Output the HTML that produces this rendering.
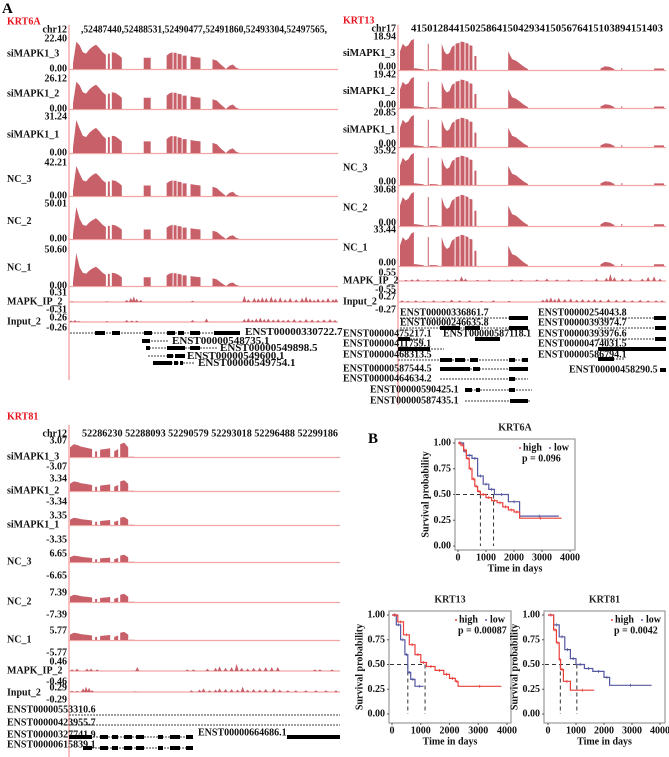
<!DOCTYPE html>
<html><head><meta charset="utf-8">
<style>
html,body{margin:0;padding:0;background:#fff;}
svg{display:block;font-family:"Liberation Serif",serif;font-weight:bold;}
</style></head>
<body>
<svg id="fig" width="669" height="757" viewBox="0 0 669 757" xmlns="http://www.w3.org/2000/svg">
<text x="2" y="13" font-size="15">A</text>
<text x="368" y="443" font-size="15">B</text>
</svg>
<script>
// ===== Data =====
const sampleNames = ["siMAPK1_3","siMAPK1_2","siMAPK1_1","NC_3","NC_2","NC_1"];
const k6Max = ["22.40","26.12","31.24","42.21","50.01","50.60"];
const k13Max = ["18.94","19.42","20.85","35.92","30.68","33.44"];
const k81Max = ["3.07","3.34","3.35","6.65","7.39","5.77"];
const k6Scale = [1,1,0.85,0.85,0.72,0.65];
const k13Scale = [1,1,1,1,1,1];
const k81Scale = [1,1,1,1,1,1];
const k6Exons = [
 [4,37,[0.2,0.97,0.85,0.6,0.55,0.7,0.8,0.87,0.75,0.6,0.5]],
 [39,41,[0.55,0.55]],[43,53,[0.6,0.58,0.5,0.4]],
 [75,82,[0.4,0.4]],[98,104,[0.48,0.56,0.6]],[105,108,[0.58,0.58]],
 [109,113,[0.55,0.52]],[114,118,[0.48,0.48]],[122,132,[0.45,0.42,0.4]],
 [144,157,[0.35,0.3,0.15,0.02]],[158,171,[0.02,0.12,0.16,0.05,0]]
];
const k13Exons = [
 [2,16,[0.6,0.85,0.75,0.8,0.95,1.0]],[16,26,[0.06,0.04,0.02]],
 [30,31,[0.85,0.85]],[32,40,[0.03,0.02]],
 [44,57,[0.85,0.6,0.5,0.55,0.75,0.8]],[58,62,[0.85,0.88]],[63,67,[0.92,0.9]],
 [68,71,[0.88,0.85]],[72,75,[0.8,0.78]],[77,79,[0.45,0.45]],
 [111,131,[0.6,0.35,0.3,0.2,0.1,0.03]],
 [204,218,[0.05,0.12,0.1,0.03]],[225,226,[0.06,0.06]],[258,268,[0.05,0.05]]
];
const k81Exons = [
 [1,23,[0.6,0.8,0.75,0.65,0.6,0.55,0.5]],[26,28,[0.35,0.35]],
 [31,41,[0.45,0.5,0.55]],[45,49,[0.35,0.5]],[51,59,[0.8,0.9,0.6]],[60,65,[0.02,0.02]]
];
const k6Ip = [[3,0.1],[38,0.1],[58,0.3],[62,0.6],[65,0.8],[68,0.5],[72,0.3],[124,0.2],[176,0.9],[180,0.4],[186,0.6],[190,0.5],[194,0.7],[198,0.6],[203,0.8],[207,0.5],[212,0.7],[217,0.4],[222,0.6],[228,0.4],[234,0.6],[238,0.8],[242,0.5],[246,0.3],[250,0.5],[255,0.4],[260,0.6],[265,0.4],[268,0.5]];
const k6In = [[2,0.3],[6,0.4],[10,0.2],[38,0.2],[58,0.4],[63,0.3],[68,0.3],[124,0.4],[138,0.7],[176,0.6],[180,0.8],[184,0.5],[188,0.7],[192,0.9],[196,0.6],[200,0.7],[205,0.5],[210,0.6],[215,0.4],[220,0.5],[226,0.6],[232,0.4],[238,0.6],[244,0.5],[250,0.4],[256,0.5],[262,0.6],[267,0.4]];
const k13Ip = [[8,0.15],[14,0.2],[20,0.25],[30,0.15],[40,0.15],[50,0.2],[58,0.2],[64,0.6],[68,0.3],[80,0.15],[92,0.2],[115,0.2],[124,0.15],[140,0.2],[150,0.3],[160,0.2],[172,0.2],[185,0.15],[200,0.3],[210,0.4],[214,0.9],[218,0.5],[226,0.3],[234,0.3],[246,0.3],[252,0.5],[258,0.6],[264,0.3]];
const k13In = [[4,0.3],[10,0.2],[18,0.3],[26,0.2],[36,0.3],[46,0.2],[54,0.4],[62,0.3],[72,0.3],[84,0.2],[96,0.3],[112,0.2],[146,0.4],[150,0.6],[154,0.8],[158,0.5],[162,0.7],[168,0.5],[174,0.6],[180,0.4],[186,0.5],[192,0.4],[198,0.5],[204,0.4],[212,0.5],[220,0.4],[228,0.4],[236,0.3],[244,0.4],[252,0.3],[260,0.3],[266,0.3]];
const k81Ip = [[3,0.2],[8,0.3],[18,0.3],[22,0.3],[28,0.2],[68,0.5],[118,0.2],[124,0.2],[138,0.3],[146,0.4],[150,0.6],[156,0.4],[162,0.5],[167,0.9],[172,0.4],[178,0.3],[184,0.4],[190,0.4],[196,0.5],[202,0.5],[208,0.5],[245,0.2],[250,0.2],[262,0.2]];
const k81In = [[3,0.2],[8,0.2],[14,0.6],[17,0.9],[20,0.7],[23,0.3],[66,0.1],[122,0.3],[130,0.4],[134,0.6],[140,0.3],[146,0.4],[150,0.6],[156,0.5],[162,0.5],[168,0.4],[173,0.9],[178,0.4],[184,0.5],[190,0.4],[196,0.5],[204,0.6],[210,0.4],[218,0.3],[226,0.3],[236,0.3],[246,0.3],[256,0.3],[266,0.3]];

// KM data
const kmTicksY = ["0.00","0.25","0.50","0.75","1.00"];
const kmTicksX = ["0","1000","2000","3000","4000"];
const k6aHighT = [0,100,200,300,400,500,600,700,800,1000,1200,1400,1600,1800,2000,2200,3700];
const k6aHighS = [1,0.98,0.93,0.85,0.75,0.65,0.58,0.53,0.5,0.47,0.44,0.42,0.38,0.35,0.33,0.27,0.27];
const k6aLowT = [0,200,300,500,700,900,1100,1300,1800,2200,3600];
const k6aLowS = [1,0.92,0.88,0.85,0.68,0.6,0.55,0.5,0.43,0.29,0.29];
const k13HighT = [0,200,400,600,800,1000,1200,1500,1800,2000,2200,2300,3800];
const k13HighS = [1,0.93,0.8,0.7,0.6,0.52,0.48,0.44,0.4,0.36,0.33,0.28,0.28];
const k13LowT = [0,150,300,450,550,650,800,1100];
const k13LowS = [1,0.9,0.75,0.6,0.42,0.35,0.28,0.28];
const k81HighT = [0,200,300,400,450,550,800,1650];
const k81HighS = [1,0.85,0.72,0.55,0.45,0.33,0.24,0.24];
const k81LowT = [0,200,400,600,800,1000,1300,1600,2000,2200,3700];
const k81LowS = [1,0.9,0.78,0.65,0.56,0.5,0.46,0.43,0.37,0.29,0.29];

// ===== Drawing =====
const NS='http://www.w3.org/2000/svg';
const svg=document.getElementById('fig');
function mk(tag,attrs,parent){const e=document.createElementNS(NS,tag);for(const k in attrs)e.setAttribute(k,attrs[k]);(parent||svg).appendChild(e);return e;}
function T(x,y,s,size,anchor,fill,parent){const e=mk('text',{x:x,y:y,'font-size':size,'text-anchor':anchor||'start','dominant-baseline':'central',fill:fill||'#111'},parent);e.textContent=s;return e;}
const COV='#c8606a', BASE='#f2a5a5';

function coverage(g,x0,W,top,base,exons,mult){
  const xs=p=>x0+p*W/270;
  const H=base-top;
  exons.forEach(ex=>{
    const [s,e,hs]=ex;
    let d='M'+xs(s)+','+base;
    hs.forEach((h,i)=>{const p=s+(e-s)*i/(hs.length-1);const hh=h>=0.9?h:h*mult;d+=' L'+xs(p).toFixed(1)+','+(base-hh*H).toFixed(1);});
    d+=' L'+xs(e)+','+base+' Z';
    const p=mk('path',{d:d,fill:COV},g);
    
    
  });
}
function bumps(g,x0,W,base,H,arr){
  const xs=p=>x0+p*W/270;
  arr.forEach(b=>{
    const p=mk('path',{d:`M${xs(b[0])-2},${base} L${xs(b[0])},${base-b[1]*H} L${xs(b[0])+2},${base} Z`,fill:COV},g);
    
    
  });
}
function baseline(g,x0,x1,y){const l=mk('line',{x1:x0,x2:x1,y1:y,y2:y,stroke:BASE,'stroke-width':1.2},g);
  
  }
function transcript(g,x0,x1,y,blocks){
  const l=mk('line',{x1:x0,x2:x1,y1:y,y2:y,stroke:'#000','stroke-width':0.8,'stroke-dasharray':'2,1'},g);
  
  
  blocks.forEach(b=>{const r=mk('rect',{x:b[0],y:y-2,width:b[1]-b[0],height:4,fill:'#000'},g);
    
    });
}

// ---- KRT6A panel ----
(function(){
  const g=mk('g',{});
  
  
  T(7,22,'KRT6A',10,'start','#e8111c',g);
  T(67,30,'chr12',10,'end','#111',g);
  const h=T(81,30,',52487440,52488531,52490477,52491860,52493304,52497565,',10,'start','#111',g);h.setAttribute('textLength','246');h.setAttribute('lengthAdjust','spacingAndGlyphs');
  const x0=69,W=269;
  mk('line',{x1:x0,x2:x0,y1:25,y2:380,stroke:'#f08080','stroke-width':1},g);
  const tops=[39,79,117,163,204,250], bases=[69,109,153,196,239,286];
  for(let i=0;i<6;i++){
    T(67,tops[i],k6Max[i],10,'end','#111',g);
    T(67,bases[i],'0.00',10,'end','#111',g);
    T(7,(tops[i]+bases[i])/2,sampleNames[i],10,'start','#111',g);
    baseline(g,x0,338,bases[i]+0.5);
    coverage(g,x0,W,tops[i]+2,bases[i],k6Exons,k6Scale[i]);
  }
  T(67,293,'0.31',10,'end','#111',g);T(67,310,'-0.31',10,'end','#111',g);T(7,302,'MAPK_IP_2',10,'start','#111',g);
  baseline(g,x0,338,302);bumps(g,x0,W,302,7,k6Ip);
  T(67,318,'0.26',10,'end','#111',g);T(67,328,'-0.26',10,'end','#111',g);T(7,322,'Input_2',10,'start','#111',g);
  baseline(g,x0,338,322);bumps(g,x0,W,322,5,k6In);
  transcript(g,70,240,333,[[95,105],[112,120],[144,152],[167,175],[178,184],[190,200],[214,240]]);T(245,332,'ENST00000330722.7',11,'start','#111',g);
  transcript(g,142,168,341,[[142,150]]);T(172,341,'ENST00000548735.1',11,'start','#111',g);
  transcript(g,146,218,348,[[146,150],[167,185],[190,200]]);T(220,348,'ENST00000549898.5',11,'start','#111',g);
  transcript(g,148,185,356,[[167,173],[175,185]]);T(187,356,'ENST00000549600.1',11,'start','#111',g);
  transcript(g,153,195,363,[[153,172],[174,178],[180,183]]);T(198,363,'ENST00000549754.1',11,'start','#111',g);
})();

// ---- KRT13 panel ----
(function(){
  const g=mk('g',{});
  
  
  T(343,21,'KRT13',10,'start','#e8111c',g);
  T(396,29,'chr17',10,'end','#111',g);
  const h=T(411,29,'41501284415025864150429341505676415103894151403',10,'start','#111',g);h.setAttribute('textLength','252');h.setAttribute('lengthAdjust','spacingAndGlyphs');
  const x0=398,W=268;
  mk('line',{x1:x0,x2:x0,y1:25,y2:405,stroke:'#f08080','stroke-width':1},g);
  const tops=[37,75,113,151,190,230], bases=[70,108,147,185,226,266];
  for(let i=0;i<6;i++){
    T(396,tops[i],k13Max[i],10,'end','#111',g);
    T(396,bases[i]-3,'0.00',10,'end','#111',g);
    T(343,(tops[i]+bases[i])/2,sampleNames[i],10,'start','#111',g);
    baseline(g,x0,666,bases[i]+0.5);
    coverage(g,x0,W,tops[i]+2,bases[i],k13Exons,k13Scale[i]);
  }
  T(396,273,'0.55',10,'end','#111',g);T(396,290,'-0.55',10,'end','#111',g);T(343,281,'MAPK_IP_2',10,'start','#111',g);
  baseline(g,x0,666,281);bumps(g,x0,W,281,8,k13Ip);
  T(396,297,'0.27',10,'end','#111',g);T(396,310,'-0.27',10,'end','#111',g);T(343,302,'Input_2',10,'start','#111',g);
  baseline(g,x0,666,302);bumps(g,x0,W,302,6,k13In);
  const L=[['ENST00000336861.7',400,313],['ENST00000246635.8',400,323],['ENST00000475217.1',343,334],['ENST00000587118.1',443,334],['ENST00000411759.1',343,344],['ENST00000468313.5',343,355],['ENST00000587544.5',343,369],['ENST00000464634.2',343,379],['ENST00000590425.1',370,390],['ENST00000587435.1',370,401],['ENST00000254043.8',538,313],['ENST00000393974.7',538,323],['ENST00000393976.6',538,334],['ENST00000474031.5',538,344],['ENST00000586794.1',538,355],['ENST00000458290.5',569,370]];
  L.forEach(l=>{const t=T(l[1],l[2],l[0],10,'start','#111',g);});
  transcript(g,400,528,318,[[509,528]]);
  transcript(g,400,528,328,[[440,460],[465,480],[509,528]]);
  transcript(g,398,425,339,[[398,410]]);transcript(g,475,500,339,[[475,500]]);
  transcript(g,398,444,349,[[398,430]]);
  transcript(g,398,528,360,[[440,452],[455,465],[470,478],[509,515],[522,528]]);
  transcript(g,440,528,369,[[440,470],[473,480],[509,528]]);
  transcript(g,440,528,379,[[509,515]]);
  transcript(g,465,532,390,[[465,472],[476,480],[509,515]]);
  transcript(g,465,530,401,[[510,528]]);
  transcript(g,598,666,318,[[654,666]]);transcript(g,598,666,328,[[655,666]]);
  transcript(g,598,666,339,[[655,666]]);transcript(g,598,666,349,[[598,666]]);
  transcript(g,598,625,359,[[598,614]]);transcript(g,660,666,370,[[660,666]]);
})();

// ---- KRT81 panel ----
(function(){
  const g=mk('g',{});
  
  
  T(7,417,'KRT81',10,'start','#e8111c',g);
  T(67,434,'chr12',10,'end','#111',g);
  const h=T(82,434,'52286230 52288093 52290579 52293018 52296488 52299186',10,'start','#111',g);h.setAttribute('textLength','256');h.setAttribute('lengthAdjust','spacingAndGlyphs');
  const x0=69,W=271;
  mk('line',{x1:x0,x2:x0,y1:425,y2:757,stroke:'#f08080','stroke-width':1},g);
  const tops=[441,479,516,554,593,631], bases=[457,491,525,562,602,640], negs=[467,502,540,576,615,653];
  for(let i=0;i<6;i++){
    T(67,tops[i],k81Max[i],10,'end','#111',g);
    T(67,negs[i],'-'+k81Max[i],10,'end','#111',g);
    T(7,bases[i],sampleNames[i],10,'start','#111',g);
    baseline(g,x0,340,bases[i]+0.5);
    coverage(g,x0,W,tops[i],bases[i],k81Exons,k81Scale[i]);
  }
  T(67,662,'0.46',10,'end','#111',g);T(67,682,'-0.46',10,'end','#111',g);T(7,671,'MAPK_IP_2',10,'start','#111',g);
  baseline(g,x0,340,671);bumps(g,x0,W,671,8,k81Ip);
  T(67,688,'0.29',10,'end','#111',g);T(67,700,'-0.29',10,'end','#111',g);T(7,693,'Input_2',10,'start','#111',g);
  baseline(g,x0,340,692);bumps(g,x0,W,692,6,k81In);
  T(7,710,'ENST00000553310.6',10,'start','#111',g);T(7,723,'ENST00000423955.7',10,'start','#111',g);
  T(7,735,'ENST00000327741.9',10,'start','#111',g);T(7,745,'ENST00000615839.1',10,'start','#111',g);
  T(198,733,'ENST00000664686.1',10,'start','#111',g);
  transcript(g,69,340,715,[]);transcript(g,69,340,725,[]);
  transcript(g,69,193,737,[[69,92],[100,108],[112,118],[124,132],[136,144],[158,163],[170,180],[186,193]]);
  transcript(g,287,340,737,[[287,340]]);
  transcript(g,83,193,748,[[83,92],[100,108],[112,118],[124,132],[136,144],[158,163],[170,180],[186,193]]);
})();

// ---- KM plots ----
function km(name,title,bx0,bx1,by0,by1,xa,xb,ya,yb,hiT,hiS,loT,loS,medHi,medLo,pval,legX){
  const g=mk('g',{});
  
  
  const xs=t=>xa+(xb-xa)*t/4000, ys=p=>yb+(ya-yb)*p;
  T((bx0+bx1)/2,by0-11,title,10,'middle','#222',g);
  const box=mk('rect',{x:bx0,y:by0,width:bx1-bx0,height:by1-by0,fill:'none',stroke:'#999','stroke-width':1.2},g);
  
  
  kmTicksY.forEach(s=>{const y=ys(parseFloat(s));T(bx0-4,y,s,10,'end','#111',g);mk('line',{x1:bx0-2,x2:bx0,y1:y,y2:y,stroke:'#555'},g);});
  kmTicksX.forEach(s=>{const x=xs(parseFloat(s));T(x,by1+8,s,10,'middle','#111',g);mk('line',{x1:x,x2:x,y1:by1,y2:by1+2,stroke:'#555'},g);});
  const xl=T((bx0+bx1)/2,by1+19,'Time in days',10,'middle','#111',g);
  
  const yl=T(0,0,'Survival probability',10,'middle','#111',g);
  yl.setAttribute('transform',`translate(${bx0-29},${(by0+by1)/2}) rotate(-90)`);
  
  const m=Math.max(medHi,medLo);
  mk('line',{x1:bx0+1,x2:xs(m),y1:ys(0.5),y2:ys(0.5),stroke:'#333','stroke-dasharray':'4,3'},g);
  [medHi,medLo].forEach(v=>mk('line',{x1:xs(v),x2:xs(v),y1:ys(0.5),y2:ys(0),stroke:'#333','stroke-dasharray':'4,3'},g));
  function step(T_,S_,col,nm){
    let d='M'+xs(T_[0])+','+ys(S_[0]);
    for(let i=1;i<T_.length;i++){d+=' H'+xs(T_[i]).toFixed(1)+' V'+ys(S_[i]).toFixed(1);}
    const p=mk('path',{d:d,fill:'none',stroke:col,'stroke-width':1.2},g);
    
    
    for(let i=1;i<T_.length;i++){const x=(xs(T_[i-1])+xs(T_[i]))/2,y=ys(S_[i-1]);mk('line',{x1:x,x2:x,y1:y-1.5,y2:y+1.5,stroke:col,'stroke-width':0.8},g);}
  }
  step(loT,loS,'#5558a0','survival-curve-low');
  step(hiT,hiS,'#e8413c','survival-curve-high');
  const lg=mk('g',{},g);
  
  
  mk('circle',{cx:legX,cy:by0+9,r:1,fill:'#e8413c'},lg);
  T(legX+3,by0+9,'high',10,'start','#111',lg);
  mk('circle',{cx:legX+30,cy:by0+9,r:1,fill:'#5558a0'},lg);
  T(legX+34,by0+9,'low',10,'start','#111',lg);
  T(legX+2,by0+20,pval,10,'start','#111',lg);
}
km('km-krt6a','KRT6A',455,575,439,550,458,570,443,546,k6aHighT,k6aHighS,k6aLowT,k6aLowS,800,1270,'p = 0.096',520);
km('km-krt13','KRT13',389,511,611,723,392,507,615,714,k13HighT,k13HighS,k13LowT,k13LowS,1150,550,'p = 0.00087',456);
km('km-krt81','KRT81',544,665,611,723,548,660,615,714,k81HighT,k81HighS,k81LowT,k81LowS,440,1030,'p = 0.0042',612);
</script>
</body></html>
